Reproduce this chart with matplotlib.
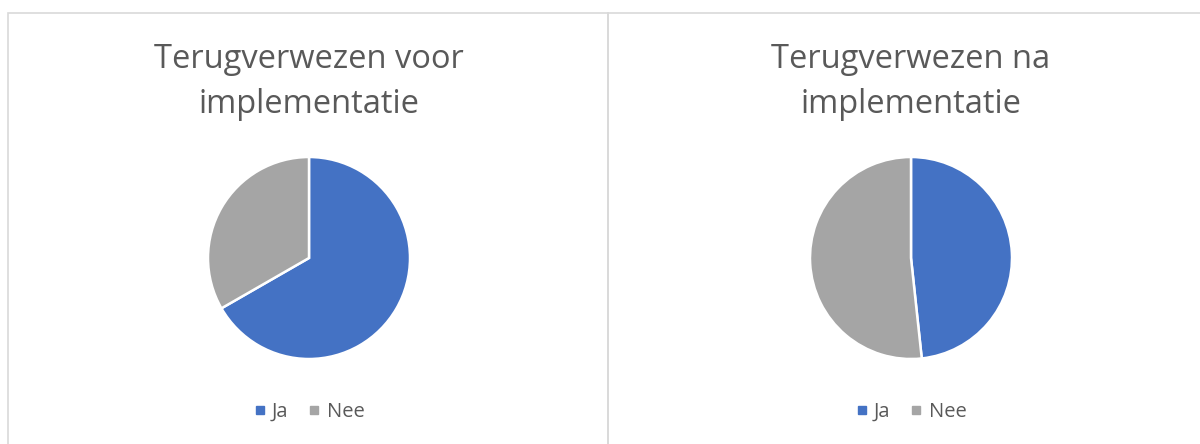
import matplotlib.pyplot as plt
from matplotlib.lines import Line2D
from matplotlib.patches import Rectangle

# answers: referred back before / after implementation (percent)
labels = ['Ja', 'Nee']
voor = [66.7, 33.3]
na = [48.3, 51.7]
titles = ['Terugverwezen voor\nimplementatie', 'Terugverwezen na\nimplementatie']

colors = ['#4472C4', '#A5A5A5']
text_color = '#595959'
plt.rcParams['font.family'] = ['Open Sans', 'DejaVu Sans']

W, H = 1200, 444
fig = plt.figure(figsize=(W / 100, H / 100), dpi=100)
fig.patch.set_facecolor('white')

# panel frames, like two chart boxes next to each other
for x0, x1 in [(8, 608), (608, 1205)]:
    fig.patches.append(Rectangle((x0 / W, -0.1), (x1 - x0) / W, (H - 13) / H + 0.1,
                                 transform=fig.transFigure, fill=False,
                                 edgecolor='#D9D9D9', linewidth=1.2))

centers = [309, 911]
r = 101  # pie radius in px
cy = 258

for cx, vals, title in zip(centers, [voor, na], titles):
    ax = fig.add_axes([(cx - r) / W, (H - cy - r) / H, 2 * r / W, 2 * r / H])
    ax.pie(vals, colors=colors, startangle=90, counterclock=False,
           wedgeprops=dict(edgecolor='white', linewidth=1.8))
    ax.set_xlim(-1, 1)
    ax.set_ylim(-1, 1)

    fig.text(cx / W, 1 - 82 / H, title, ha='center', va='center',
             fontsize=23.5, color=text_color, linespacing=1.5)

    handles = [Line2D([], [], marker='s', linestyle='none', markersize=5.8,
                      markerfacecolor=c, markeredgecolor=c) for c in colors]
    fig.legend(handles, labels, loc='center', ncol=2, frameon=False,
               bbox_to_anchor=(cx / W, 1 - 412 / H), fontsize=14.5,
               labelcolor=text_color, handletextpad=0.3, columnspacing=1.0,
               handlelength=0.6)

fig.savefig('out.png', dpi=100)
